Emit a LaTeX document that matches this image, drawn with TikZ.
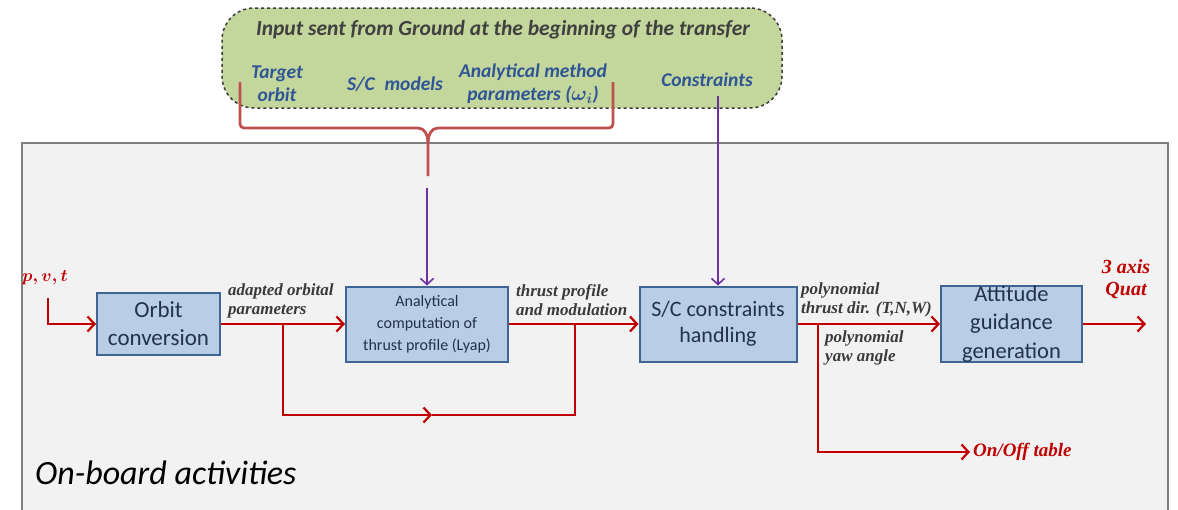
\documentclass[tikz,border=0pt]{standalone}
\usepackage{amsmath}
\usepackage{fontspec}
\setmainfont{Carlito}
\newfontfamily\labfont{Liberation Serif}
\usetikzlibrary{arrows.meta}
\definecolor{bgray}{HTML}{F2F2F2}
\definecolor{frame}{HTML}{808080}
\definecolor{gfill}{HTML}{C3D69B}
\definecolor{gdraw}{HTML}{3A3A3A}
\definecolor{gtitle}{HTML}{404040}
\definecolor{gblue}{HTML}{2F5597}
\definecolor{bfill}{HTML}{B9CDE5}
\definecolor{bdraw}{HTML}{3F6595}
\definecolor{btext}{HTML}{22324D}
\definecolor{rline}{HTML}{C00000}
\definecolor{bracec}{HTML}{C0504D}
\definecolor{purp}{HTML}{7030A0}
\definecolor{labc}{HTML}{3A3A3A}
\tikzset{
  blk/.style={draw=bdraw, line width=2pt, fill=bfill, text=btext, align=center, inner sep=0pt},
  redline/.style={draw=rline, line width=2.4pt},
  redarrow/.style={redline, -{Straight Barb[length=7pt,width=15pt,line width=2.2pt]}},
  purparrow/.style={draw=purp, line width=1.6pt, -{Straight Barb[length=6pt,width=13pt,line width=1.6pt]}},
  lab/.style={font=\labfont\bfseries\itshape\fontsize{17}{19}\selectfont, text=labc, align=left, inner sep=0pt},
  redlab/.style={font=\labfont\bfseries\itshape\fontsize{20}{22}\selectfont, text=rline, align=center, inner sep=0pt},
  gtext/.style={font=\bfseries\itshape\fontsize{19.5}{23}\selectfont, text=gblue, align=center, inner sep=0pt}
}
\begin{document}
\begin{tikzpicture}[x=1pt,y=-1pt]
\useasboundingbox (0,0) rectangle (1178,509);
\fill[white] (0,0) rectangle (1178,509);
\draw[frame, line width=1.8pt, fill=bgray] (22,143) rectangle (1168,530);

% ground input box
\node[draw=gdraw, dashed, line width=1.5pt, fill=gfill, rounded corners=32pt,
      minimum width=560pt, minimum height=100pt] (ground) at (502,58) {};
\node[font=\bfseries\itshape\fontsize{21.5}{24}\selectfont, text=gtitle, inner sep=0pt] (gtitle) at (503,30) {Input sent from Ground at the beginning of the transfer};
\node[gtext] (target) at (277,84) {Target\\orbit};
\node[gtext] (models) at (395,84) {S/C\enspace models};
\node[gtext] (analy) at (533,84) {Analytical method\\parameters ($\boldsymbol{\omega_i}$)};
\node[gtext] (constr) at (707,80) {Constraints};

% brace
\draw[bracec, line width=2.8pt, rounded corners=4pt] (240,82) -- (240,128) -- (418,128);
\draw[bracec, line width=2.8pt, rounded corners=4pt] (613,82) -- (613,128) -- (438,128);
\draw[bracec, line width=2.8pt] (418,128) to[out=0,in=90] (428,142) -- (428,176);
\draw[bracec, line width=2.8pt] (438,128) to[out=180,in=90] (428,142);

% blocks
\node[blk, minimum width=123pt, minimum height=62pt, font=\fontsize{23}{28}\selectfont] (orbit) at (158.5,324) {Orbit\\conversion};
\node[blk, minimum width=162pt, minimum height=75pt, font=\fontsize{16}{22}\selectfont] (lyap) at (427,324) {Analytical\\computation of\\thrust profile (Lyap)};
\node[blk, minimum width=157pt, minimum height=75pt, font=\fontsize{22}{26}\selectfont] (sc) at (718,324) {S/C constraints\\handling};
\node[blk, minimum width=141pt, minimum height=75pt, font=\fontsize{22.5}{28.5}\selectfont] (att) at (1011.5,324) {Attitude\\guidance\\generation};

% purple inputs
\coordinate (p1) at (427,188);
\draw[purparrow] (p1) -- (lyap.north);
\coordinate (p2) at (718,96);
\draw[purparrow] (p2) -- (sc.north);

% input p,v,t
\node[redlab, font=\labfont\bfseries\itshape\fontsize{18}{22}\selectfont] (pvt) at (45,278) {$\boldsymbol{p,v,t}$};
\coordinate (pvts) at (48,298);
\draw[redarrow] (pvts) |- (orbit.west);

% chain
\draw[redarrow] (orbit.east) -- (lyap.west);
\node[lab, anchor=south west] (adapt) at (228,318) {adapted orbital\\parameters};
\draw[redarrow] (lyap.east) -- (sc.west);
\node[lab, anchor=south west] (thr) at (516,316) {thrust profile\\and modulation};
\draw[redarrow] (sc.east) -- (att.west);
\node[lab, anchor=south west] (poly) at (801,317) {polynomial\\thrust dir. (T,N,W)};
\node[lab, anchor=north west] (yaw) at (825,330) {polynomial\\yaw angle};

% bypass loop
\coordinate (b1) at (283,324);
\coordinate (b1d) at (283,415);
\coordinate (bm) at (432,415);
\coordinate (b2d) at (575,415);
\coordinate (b2) at (575,324);
\draw[redarrow] (b1) -- (b1d) -- (bm);
\draw[redline] (bm) -- (b2d) -- (b2);

% on/off branch
\coordinate (o1) at (818,324);
\coordinate (o2) at (970,452);
\draw[redarrow] (o1) |- (o2);
\node[redlab, anchor=west, font=\labfont\bfseries\itshape\fontsize{19}{20}\selectfont] (onoff) at (973,452) {On/Off table};

% output
\coordinate (q) at (1146,324);
\draw[redarrow] (att.east) -- (q);
\node[redlab] (quat) at (1126,279) {3 axis\\Quat};

\node[font=\itshape\fontsize{34}{36}\selectfont, text=black, anchor=west, inner sep=0pt] (onb) at (35,473) {On-board activities};
\end{tikzpicture}
\end{document}
